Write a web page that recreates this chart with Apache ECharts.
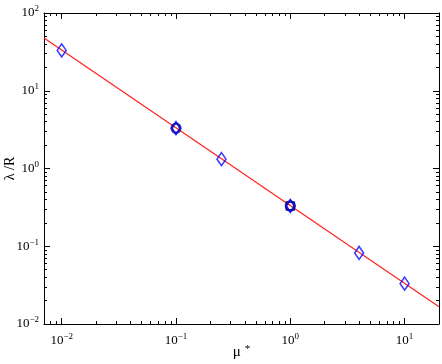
<!DOCTYPE html>
<html><head><meta charset="utf-8">
<script src="https://cdn.jsdelivr.net/npm/echarts@6/dist/echarts.min.js"></script>
<style>html,body{margin:0;padding:0;background:#fff}#c{width:442px;height:364px}</style>
</head><body><div id="c"></div>
<script>
// ---- data ----
var xMajorTicks = [0.01, 0.1, 1, 10];
var yMajorTicks = [0.01, 0.1, 1, 10, 100];
var diamondX = [0.01, 0.1, 0.25, 1, 4, 10];
var diamondY = [33, 3.3, 1.32, 0.33, 0.082, 0.033];
var circleX = [0.1, 1];
var circleY = [3.3, 0.33];
var fitX = [0.007, 20];
var fitY = [47.6, 0.0167];
var xRange = [0.007, 20];
var yRange = [0.01, 100];

function minorTicks(lo, hi) {
  var out = [];
  for (var e = -3; e <= 2; e++) {
    for (var m = 2; m <= 9; m++) {
      var v = m * Math.pow(10, e);
      if (v > lo * 1.0001 && v < hi * 0.9999) out.push(v);
    }
  }
  return out;
}
var xMinor = minorTicks(xRange[0], xRange[1]);
var yMinor = minorTicks(yRange[0], yRange[1]);

function pairs(xs, ys) { return xs.map(function (x, i) { return [x, ys[i]]; }); }

var FONT = 'Liberation Serif';
function fmt(v) {
  var e = Math.round(Math.log10(v));
  return '10{sup|' + (e < 0 ? '\u2212' + (-e) : e) + '}';
}
var labelRich = {
  sup: { fontSize: 9, fontFamily: FONT, color: '#000', verticalAlign: 'bottom', padding: [0, 0, 8, 0] }
};

function axis(kind, pos, major, minor, range, withLabel) {
  var a = {
    type: 'log', logBase: 10, min: range[0], max: range[1],
    position: pos,
    gridIndex: 0,
    splitLine: { show: false },
    axisLine: { show: withLabel, onZero: false, lineStyle: { color: '#000', width: 1 } },
    axisTick: {
      show: true, inside: true, length: minor ? 3 : 6,
      customValues: minor ? minor : major,
      lineStyle: { color: '#000', width: 1 }
    },
    axisLabel: withLabel ? {
      show: true, customValues: major, formatter: fmt,
      fontFamily: FONT, fontSize: 13, color: '#000', rich: labelRich,
      margin: kind === 'x' ? 8 : 5
    } : { show: false },
    minorTick: { show: false }
  };
  return a;
}

var xAxes = [
  axis('x', 'bottom', xMajorTicks, null, xRange, true),
  axis('x', 'bottom', xMajorTicks, xMinor, xRange, false),
  axis('x', 'top', xMajorTicks, null, xRange, true),
  axis('x', 'top', xMajorTicks, xMinor, xRange, false)
];
xAxes[2].axisLabel = { show: false };
xAxes[0].name = '\u03bc{sup|*}';
xAxes[0].nameLocation = 'middle';
xAxes[0].nameGap = 20;
xAxes[0].nameMoveOverlap = false;
xAxes[0].nameTextStyle = { fontFamily: FONT, fontSize: 15, color: '#000', lineHeight: 16,
  rich: { sup: { fontSize: 11, fontFamily: FONT, color: '#000', verticalAlign: 'top', lineHeight: 16, padding: [0, 0, 0, 4] } } };

var yAxes = [
  axis('y', 'left', yMajorTicks, null, yRange, true),
  axis('y', 'left', yMajorTicks, yMinor, yRange, false),
  axis('y', 'right', yMajorTicks, null, yRange, true),
  axis('y', 'right', yMajorTicks, yMinor, yRange, false)
];
yAxes[2].axisLabel = { show: false };
yAxes[0].name = '\u03bb /R';
yAxes[0].nameLocation = 'middle';
yAxes[0].nameGap = 27;
yAxes[0].nameMoveOverlap = false;
yAxes[0].nameRotate = 90;
yAxes[0].nameTextStyle = { fontFamily: FONT, fontSize: 14, color: '#000' };

var chart = echarts.init(document.getElementById('c'), null, { renderer: 'canvas' });
chart.setOption({
  animation: false,
  backgroundColor: '#fff',
  grid: { left: 44, right: 3, top: 13, bottom: 40, containLabel: false, outerBoundsMode: 'none' },
  xAxis: xAxes,
  yAxis: yAxes,
  series: [
    {
      type: 'line', xAxisIndex: 0, yAxisIndex: 0,
      data: pairs(fitX, fitY), showSymbol: false, symbol: 'none',
      lineStyle: { color: '#ff2020', width: 1.2 }, z: 2
    },
    {
      type: 'scatter', xAxisIndex: 0, yAxisIndex: 0,
      data: pairs(circleX, circleY), symbol: 'circle', symbolSize: 9,
      itemStyle: { color: 'rgba(0,0,0,0)', borderColor: '#00007a', borderWidth: 2.2 }, z: 3
    },
    {
      type: 'scatter', xAxisIndex: 0, yAxisIndex: 0,
      data: pairs(circleX, circleY), symbol: 'diamond', symbolSize: [7, 12],
      itemStyle: { color: 'rgba(0,0,0,0)', borderColor: '#00007a', borderWidth: 1.2 }, z: 3
    },
    {
      type: 'scatter', xAxisIndex: 0, yAxisIndex: 0,
      data: pairs([circleX[1]], [circleY[1]]), symbol: 'rect', symbolSize: 8, symbolRotate: 0,
      itemStyle: { color: 'rgba(0,0,0,0)', borderColor: '#00007a', borderWidth: 1.5 }, z: 3
    },
    {
      type: 'scatter', xAxisIndex: 0, yAxisIndex: 0,
      data: pairs(diamondX, diamondY), symbol: 'diamond', symbolSize: [9, 13],
      itemStyle: { color: 'rgba(0,0,0,0)', borderColor: '#0a0aff', borderWidth: 1.6 }, z: 4
    }
  ]
});
</script></body></html>
